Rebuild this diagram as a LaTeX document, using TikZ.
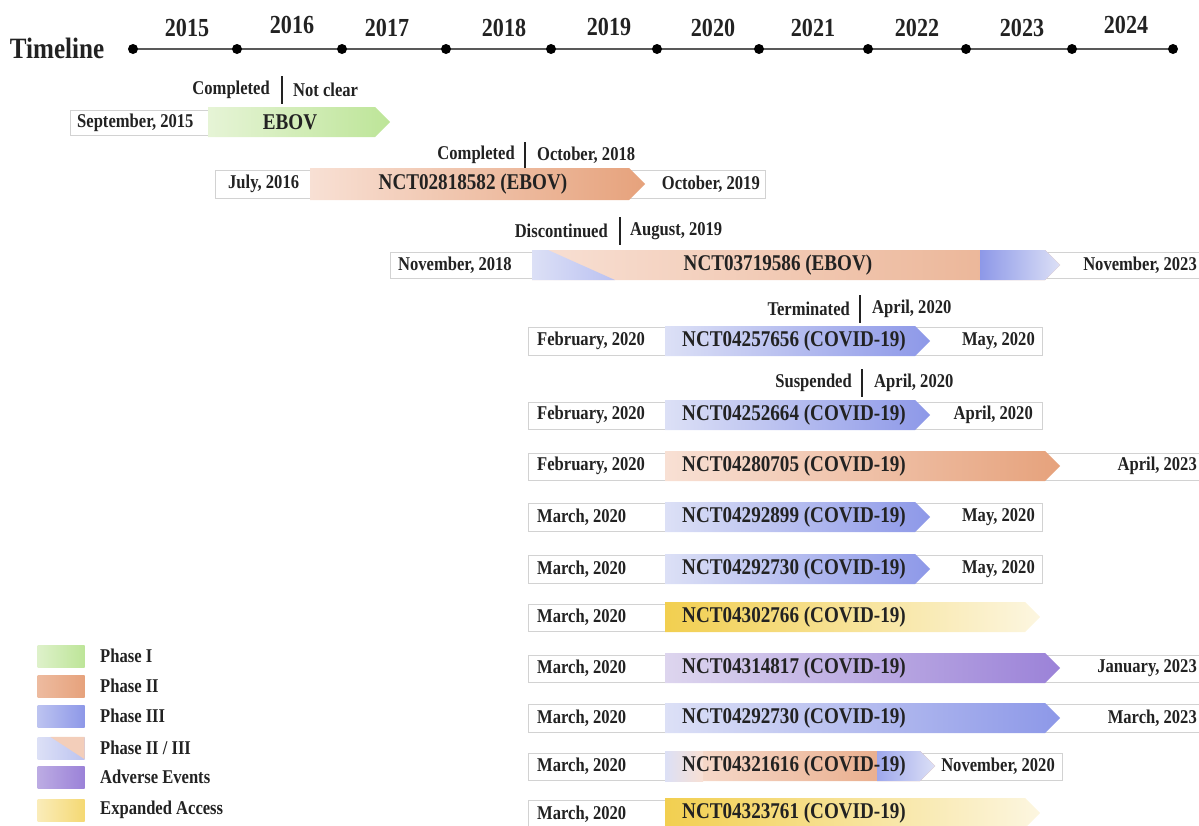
\documentclass[tikz,border=0pt]{standalone}
\usepackage{fontspec}
\setmainfont{Liberation Serif}[FakeStretch=0.85]
\usetikzlibrary{shapes.symbols}
\definecolor{ph1L}{HTML}{E6F4D6}
\definecolor{ph1R}{HTML}{BDE598}
\definecolor{ph2L}{HTML}{F8E0D4}
\definecolor{ph2R}{HTML}{E6A27C}
\definecolor{ph3L}{HTML}{DCE0F6}
\definecolor{ph3R}{HTML}{8D98E8}
\definecolor{aeL}{HTML}{DDD5EE}
\definecolor{aeR}{HTML}{9B82D8}
\definecolor{eaL}{HTML}{F2CF50}
\definecolor{eaR}{HTML}{FCF6E0}
\definecolor{ink}{HTML}{222222}
\tikzset{datetxt/.style={font=\bfseries\fontsize{19.5}{20}\selectfont, text=ink, inner sep=0pt}}
\tikzset{idtxt/.style={font=\bfseries\fontsize{22.5}{23}\selectfont, text=ink, inner sep=0pt}}
\tikzset{yeartxt/.style={font=\bfseries\fontsize{26}{26}\selectfont, text=ink, inner sep=0pt}}
\tikzset{rowbox/.style={draw=gray!35, fill=white, line width=0.6pt}}
\tikzset{bar/.style={signal, signal to=east, inner sep=0pt, minimum height=30}}
\tikzset{sep/.style={line width=2.2pt, draw=ink}}
\tikzset{dot/.style={circle, fill=black, inner sep=0pt, minimum size=10}}
\tikzset{legsq/.style={minimum width=47, minimum height=22, inner sep=0pt}}

\begin{document}
\begin{tikzpicture}[x=1pt, y=-1pt]
				\useasboundingbox (0,0) rectangle (1199,825);
				% timeline
				\node[font=\bfseries\fontsize{29.5}{30}\selectfont, text=ink, inner sep=0pt] (tl) at (57,48) {Timeline};
				\draw[line width=1.6pt, gray!70!black] (133,49) -- (1173,49);
				\node[dot] (d1) at (133,49) {};
				\node[dot] (d2) at (237,49) {};
				\node[dot] (d3) at (342,49) {};
				\node[dot] (d4) at (446,49) {};
				\node[dot] (d5) at (551,49) {};
				\node[dot] (d6) at (657,49) {};
				\node[dot] (d7) at (759,49) {};
				\node[dot] (d8) at (868,49) {};
				\node[dot] (d9) at (966,49) {};
				\node[dot] (d10) at (1072,49) {};
				\node[dot] (d11) at (1173,49) {};
				\node[yeartxt] (y2015) at (187,28) {2015};
				\node[yeartxt] (y2016) at (292,25) {2016};
				\node[yeartxt] (y2017) at (387,28) {2017};
				\node[yeartxt] (y2018) at (504,28) {2018};
				\node[yeartxt] (y2019) at (609,27) {2019};
				\node[yeartxt] (y2020) at (713,28) {2020};
				\node[yeartxt] (y2021) at (813,28) {2021};
				\node[yeartxt] (y2022) at (917,28) {2022};
				\node[yeartxt] (y2023) at (1022,28) {2023};
				\node[yeartxt] (y2024) at (1126,25) {2024};

				% EBOV
				\draw[rowbox] (70,110) rectangle (210,135);
				\node[bar, minimum width=182, left color=ph1L, right color=ph1R, anchor=west] (b1) at (208,122) {};
				\node[idtxt] (t1) at (290,122) {EBOV};
				\node[datetxt, anchor=west] (s1) at (77,123) {September, 2015};
				\coordinate (c1) at (282,90);
				\draw[sep] (c1) ++(0,-14) -- ++(0,28);
				\node[datetxt, anchor=east] (c1l) at ([shift={(-12,0)}]c1) {Completed};
				\node[datetxt, anchor=west] (c1r) at ([shift={(11,0)}]c1) {Not clear};

				\draw[rowbox] (215,170) rectangle (765,198);
				\node[bar, minimum width=335, minimum height=32, left color=ph2L, right color=ph2R, anchor=west] (b2) at (310,184) {};
				\node[idtxt] (t2) at (473,184) {NCT02818582 (EBOV)};
				\node[datetxt, anchor=west] (s2) at (228,184) {July, 2016};
				\node[datetxt, anchor=east] (e2) at (760,184) {October, 2019};
				\coordinate (c2) at (525,155);
				\draw[sep] (c2) ++(0,-13) -- ++(0,26);
				\node[datetxt, anchor=east] (c2l) at ([shift={(-10,0)}]c2) {Completed};
				\node[datetxt, anchor=west] (c2r) at ([shift={(12,0)}]c2) {October, 2018};

				\draw[rowbox] (390,252) rectangle (1210,278);
				\node[bar, minimum width=528, left color=ph2L, right color=ph2R!85!white, anchor=west] (b3) at (532,265) {};
				\shade[left color=ph3L, right color=ph3R!60!white] (b3.west) ++(0,-15) -- ++(16,0) -- ++(67,30) -- ++(-83,0) -- cycle;
				\node[bar, minimum width=80, left color=ph3R, right color=ph3L, anchor=east] (b3b) at (b3.east) {};
				\node[idtxt] (t3) at (778,265) {NCT03719586 (EBOV)};
				\node[datetxt, anchor=west] (s3) at (398,265) {November, 2018};
				\node[datetxt, anchor=east] (e3) at (1197,265) {November, 2023};
				\coordinate (c3) at (620,231);
				\draw[sep] (c3) ++(0,-14) -- ++(0,28);
				\node[datetxt, anchor=east] (c3l) at ([shift={(-12,0)}]c3) {Discontinued};
				\node[datetxt, anchor=west] (c3r) at ([shift={(10,0)}]c3) {August, 2019};

				% COVID-19
				\draw[rowbox] (528,327) rectangle (1042,355);
				\node[bar, minimum width=265, left color=ph3L, right color=ph3R, anchor=west] (b4) at (665,341) {};
				\node[idtxt, anchor=west] (t4) at (682,341) {NCT04257656 (COVID-19)};
				\node[datetxt, anchor=west] (s4) at (537,341) {February, 2020};
				\node[datetxt, anchor=east] (e4) at (1035,341) {May, 2020};
				\coordinate (c4) at (860,309);
				\draw[sep] (c4) ++(0,-14) -- ++(0,28);
				\node[datetxt, anchor=east] (c4l) at ([shift={(-10,0)}]c4) {Terminated};
				\node[datetxt, anchor=west] (c4r) at ([shift={(12,0)}]c4) {April, 2020};

				\draw[rowbox] (528,402) rectangle (1042,429);
				\node[bar, minimum width=265, left color=ph3L, right color=ph3R, anchor=west] (b5) at (665,415) {};
				\node[idtxt, anchor=west] (t5) at (682,415) {NCT04252664 (COVID-19)};
				\node[datetxt, anchor=west] (s5) at (537,415) {February, 2020};
				\node[datetxt, anchor=east] (e5) at (1033,415) {April, 2020};
				\coordinate (c5) at (862,383);
				\draw[sep] (c5) ++(0,-14) -- ++(0,28);
				\node[datetxt, anchor=east] (c5l) at ([shift={(-10,0)}]c5) {Suspended};
				\node[datetxt, anchor=west] (c5r) at ([shift={(12,0)}]c5) {April, 2020};

				\draw[rowbox] (528,453) rectangle (1210,480);
				\node[bar, minimum width=395, left color=ph2L, right color=ph2R, anchor=west] (b6) at (665,466) {};
				\node[idtxt, anchor=west] (t6) at (682,466) {NCT04280705 (COVID-19)};
				\node[datetxt, anchor=west] (s6) at (537,466) {February, 2020};
				\node[datetxt, anchor=east] (e6) at (1197,466) {April, 2023};

				\draw[rowbox] (528,503) rectangle (1042,531);
				\node[bar, minimum width=265, left color=ph3L, right color=ph3R, anchor=west] (b7) at (665,517) {};
				\node[idtxt, anchor=west] (t7) at (682,517) {NCT04292899 (COVID-19)};
				\node[datetxt, anchor=west] (s7) at (537,517) {March, 2020};
				\node[datetxt, anchor=east] (e7) at (1035,517) {May, 2020};

				\draw[rowbox] (528,555) rectangle (1042,583);
				\node[bar, minimum width=265, left color=ph3L, right color=ph3R, anchor=west] (b8) at (665,569) {};
				\node[idtxt, anchor=west] (t8) at (682,569) {NCT04292730 (COVID-19)};
				\node[datetxt, anchor=west] (s8) at (537,569) {March, 2020};
				\node[datetxt, anchor=east] (e8) at (1035,569) {May, 2020};

				\draw[rowbox] (528,604) rectangle (665,631);
				\node[bar, minimum width=375, left color=eaL, right color=eaR, anchor=west] (b9) at (665,617) {};
				\node[idtxt, anchor=west] (t9) at (682,617) {NCT04302766 (COVID-19)};
				\node[datetxt, anchor=west] (s9) at (537,617) {March, 2020};

				\draw[rowbox] (528,655) rectangle (1210,682);
				\node[bar, minimum width=395, left color=aeL, right color=aeR, anchor=west] (b10) at (665,668) {};
				\node[idtxt, anchor=west] (t10) at (682,668) {NCT04314817 (COVID-19)};
				\node[datetxt, anchor=west] (s10) at (537,668) {March, 2020};
				\node[datetxt, anchor=east] (e10) at (1197,668) {January, 2023};

				\draw[rowbox] (528,704) rectangle (1210,732);
				\node[bar, minimum width=395, left color=ph3L, right color=ph3R, anchor=west] (b11) at (665,718) {};
				\node[idtxt, anchor=west] (t11) at (682,718) {NCT04292730 (COVID-19)};
				\node[datetxt, anchor=west] (s11) at (537,718) {March, 2020};
				\node[datetxt, anchor=east] (e11) at (1197,718) {March, 2023};

				\draw[rowbox] (528,753) rectangle (1062,780);
				\node[bar, minimum width=270, left color=ph2L, right color=ph2R, anchor=west] (b12) at (665,766) {};
				\shade[left color=ph3L, right color=ph2L] (b12.west) ++(0,-15) rectangle ++(38,30);
				\node[bar, minimum width=58, left color=ph3R!85!white, right color=ph3L, anchor=east] (b12b) at (b12.east) {};
				\node[idtxt, anchor=west] (t12) at (682,766) {NCT04321616 (COVID-19)};
				\node[datetxt, anchor=west] (s12) at (537,766) {March, 2020};
				\node[datetxt, anchor=east] (e12) at (1055,766) {November, 2020};

				\draw[rowbox] (528,800) rectangle (665,830);
				\node[bar, minimum width=375, left color=eaL, right color=eaR, anchor=west] (b13) at (665,813) {};
				\node[idtxt, anchor=west] (t13) at (682,813) {NCT04323761 (COVID-19)};
				\node[datetxt, anchor=west] (s13) at (537,814) {March, 2020};

				% legend
				\node[legsq, left color=ph1L!80!ph1R, right color=ph1R] (lg1) at (61,656) {};
				\node[legsq, left color=ph2L!40!ph2R, right color=ph2R] (lg2) at (61,686) {};
				\node[legsq, left color=ph3L!60!ph3R, right color=ph3R] (lg3) at (61,716) {};
				\node[legsq, left color=ph3L, right color=ph3L!60!ph3R] (lg4) at (61,748) {};
				\fill[ph2L!70!ph2R] ([shift={(13,0)}]lg4.north west) -- (lg4.north east) -- (lg4.south east) -- cycle;
				\node[legsq, left color=aeL!50!aeR, right color=aeR] (lg5) at (61,777) {};
				\node[legsq, left color=eaL!40!white, right color=eaL!80!white] (lg6) at (61,810) {};
				\node[datetxt, anchor=west] (lt1) at (100,656) {Phase I};
				\node[datetxt, anchor=west] (lt2) at (100,686) {Phase II};
				\node[datetxt, anchor=west] (lt3) at (100,716) {Phase III};
				\node[datetxt, anchor=west] (lt4) at (100,748) {Phase II / III};
				\node[datetxt, anchor=west] (lt5) at (100,777) {Adverse Events};
				\node[datetxt, anchor=west] (lt6) at (100,810) {Expanded Access};
				\end{tikzpicture}
\end{document}
